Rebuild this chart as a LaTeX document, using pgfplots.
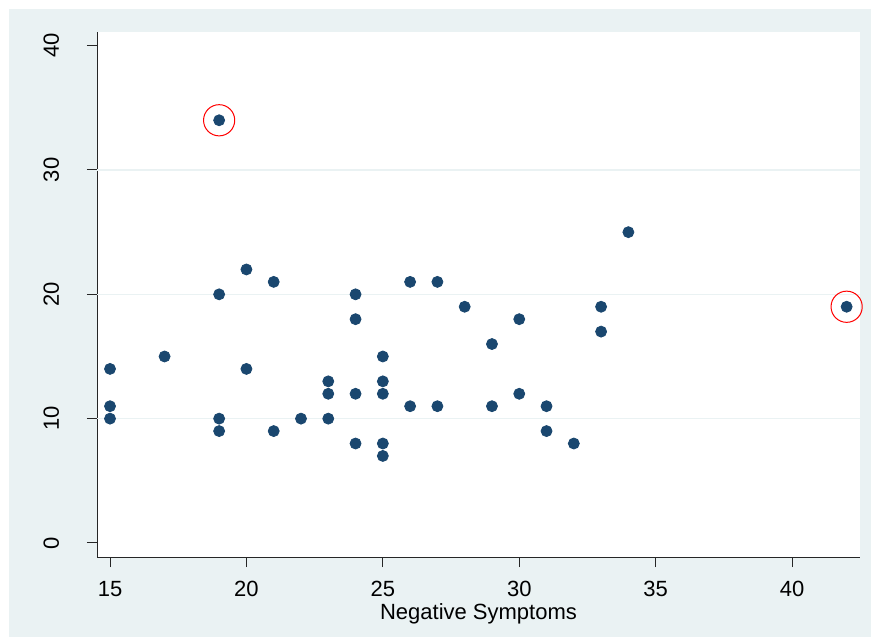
\documentclass[border=0pt]{standalone}
\usepackage{pgfplots}
\pgfplotsset{compat=1.18}
\usepackage{fontspec}
\setmainfont{Liberation Sans}
\definecolor{bg}{RGB}{234,242,243}
\definecolor{navy}{RGB}{26,71,111}
\begin{document}
\begin{tikzpicture}
\fill[white] (0,0) rectangle (435.5pt,-318.5pt);
\fill[bg] (4.5pt,-4.5pt) rectangle (435.5pt,-318.5pt);
\begin{axis}[
  at={(48.5pt,-278.5pt)}, anchor=south west,
  scale only axis, width=381.5pt, height=262.5pt,
  xmin=14.523, xmax=42.49, ymin=-1.13, ymax=41.10,
  axis x line*=bottom, axis y line*=left,
  axis line style={line width=0.5pt, black!85, -},
  axis background/.style={fill=white},
  xtick={15,20,...,40}, ytick={0,10,...,40},
  extra y ticks={10,20,30},
  extra y tick style={ymajorgrids=true, major tick length=0pt, yticklabels={}},
  grid style={bg, line width=0.75pt},
  tick align=outside, major tick length=5pt,
  tick style={line width=0.5pt, black!85},
  font=\fontsize{11}{13}\selectfont,
  /pgf/number format/assume math mode=true,
  xticklabel style={anchor=base, yshift=-14.7pt},
  yticklabel style={rotate=90, anchor=base},
  yticklabel shift=14pt,
  xlabel={Negative Symptoms},
  xlabel style={at={(axis description cs:0.5,0)}, anchor=base, yshift=-31pt},
  clip=false,
]
\addplot[only marks, mark=*, mark size=2.75pt, color=navy, mark options={fill=navy, draw=navy}] coordinates {
(15,14)(15,11)(15,10)
(17,15)
(19,34)(19,20)(19,10)(19,9)
(20,22)(20,14)
(21,21)(21,9)
(22,10)
(23,13)(23,12)(23,10)
(24,20)(24,18)(24,12)(24,8)
(25,15)(25,13)(25,12)(25,8)(25,7)
(26,21)(26,11)
(27,21)(27,11)
(28,19)
(29,16)(29,11)
(30,18)(30,12)
(31,11)(31,9)
(32,8)
(33,19)(33,17)
(34,25)
(42,19)
};
\addplot[only marks, mark=o, mark size=7.8pt, color=red, mark options={line width=0.5pt}] coordinates {(19,34)(42,19)};
\end{axis}
\end{tikzpicture}
\end{document}
